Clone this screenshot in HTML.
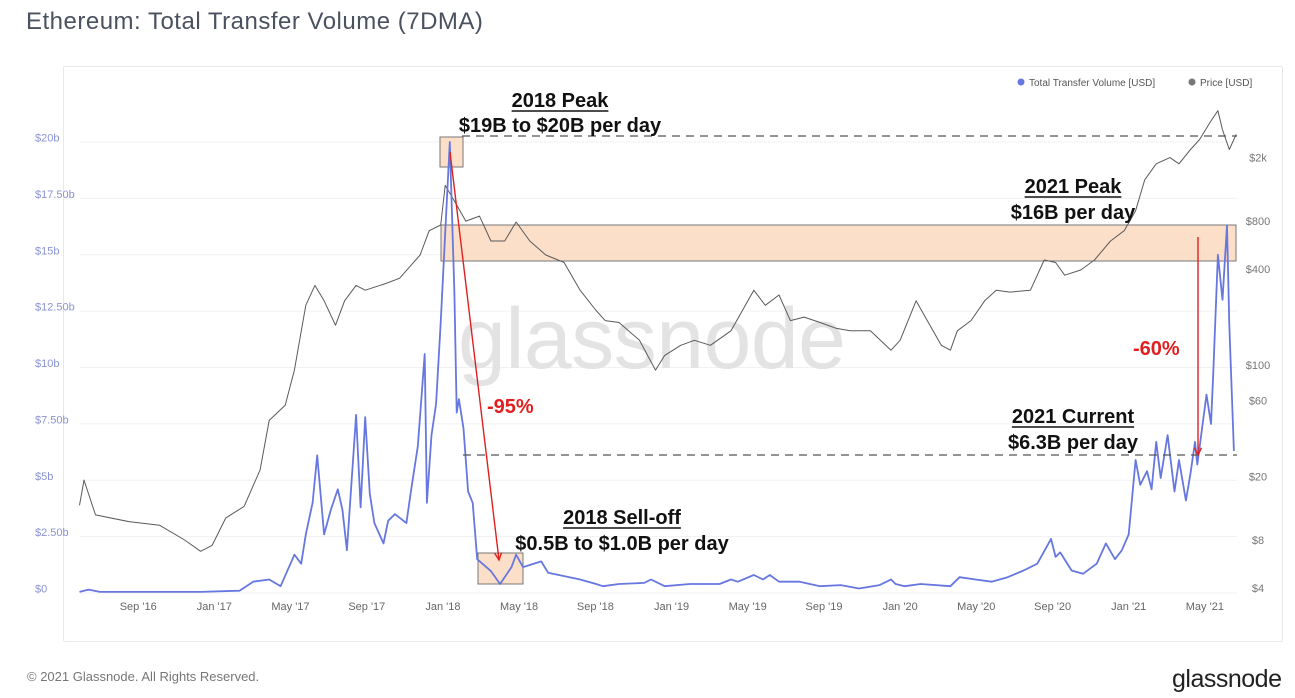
<!DOCTYPE html>
<html><head><meta charset="utf-8">
<style>
html,body{margin:0;padding:0;background:#fff;}
body{width:1295px;height:698px;position:relative;overflow:hidden;font-family:"Liberation Sans",sans-serif;}
#title{position:absolute;left:26px;top:8px;font-size:24px;color:#4a5260;letter-spacing:0.5px;}
#card{position:absolute;left:63px;top:66px;width:1218px;height:574px;border:1px solid #e8e8e8;border-radius:2px;}
#footer{position:absolute;left:27px;top:669px;font-size:13px;color:#777;}
#logo{position:absolute;left:1172px;top:665px;font-size:25px;color:#222;letter-spacing:-0.5px;}
svg{position:absolute;left:0;top:0;}
</style></head>
<body>
<div id="title">Ethereum: Total Transfer Volume (7DMA)</div>
<div id="card"></div>
<div id="footer">© 2021 Glassnode. All Rights Reserved.</div>
<div id="logo">glassnode</div>
<svg id="chart" width="1295" height="698" font-family="Liberation Sans, sans-serif"></svg>
<script>
// ---- data ----
const volTicks = [0,2.5,5,7.5,10,12.5,15,17.5,20];
const volTickLabels = ['$0','$2.50b','$5b','$7.50b','$10b','$12.50b','$15b','$17.50b','$20b'];
const priceTicks = [4,8,20,60,100,400,800,2000];
const priceTickLabels = ['$4','$8','$20','$60','$100','$400','$800','$2k'];
const xTickDates = [2016.667,2017.0,2017.333,2017.667,2018.0,2018.333,2018.667,2019.0,2019.333,2019.667,2020.0,2020.333,2020.667,2021.0,2021.333];
const xTickLabels = ["Sep '16","Jan '17","May '17","Sep '17","Jan '18","May '18","Sep '18","Jan '19","May '19","Sep '19","Jan '20","May '20","Sep '20","Jan '21","May '21"];

const volDates = [2016.41,2016.45,2016.50,2016.94,2017.11,2017.17,2017.24,2017.29,2017.35,2017.38,2017.40,2017.43,2017.45,2017.48,2017.51,2017.54,2017.56,2017.58,2017.62,2017.64,2017.66,2017.68,2017.70,2017.74,2017.76,2017.79,2017.84,2017.86,2017.89,2017.92,2017.93,2017.95,2017.97,2017.99,2018.03,2018.05,2018.06,2018.07,2018.09,2018.11,2018.13,2018.15,2018.21,2018.25,2018.30,2018.32,2018.35,2018.43,2018.46,2018.60,2018.67,2018.70,2018.77,2018.88,2018.91,2018.97,2019.08,2019.21,2019.26,2019.29,2019.36,2019.40,2019.43,2019.47,2019.56,2019.65,2019.74,2019.82,2019.91,2019.96,2019.98,2020.02,2020.09,2020.22,2020.26,2020.33,2020.40,2020.47,2020.54,2020.60,2020.66,2020.68,2020.70,2020.75,2020.80,2020.86,2020.90,2020.94,2020.97,2021.00,2021.03,2021.05,2021.08,2021.10,2021.12,2021.14,2021.17,2021.20,2021.22,2021.25,2021.27,2021.29,2021.30,2021.34,2021.36,2021.37,2021.39,2021.41,2021.43,2021.44,2021.46];
const volValues = [0.05,0.15,0.05,0.05,0.1,0.5,0.6,0.3,1.7,1.3,2.6,4.0,6.1,2.6,3.7,4.6,3.7,1.9,7.9,3.8,7.8,4.4,3.1,2.2,3.2,3.5,3.1,4.5,6.5,10.6,4.0,7.0,8.4,12,20,13.3,8,8.6,7.3,4.5,4.0,1.5,0.97,0.4,1.15,1.7,1.15,1.4,0.9,0.6,0.4,0.3,0.4,0.45,0.6,0.3,0.4,0.4,0.6,0.5,0.8,0.6,0.8,0.5,0.5,0.3,0.35,0.2,0.35,0.6,0.4,0.3,0.4,0.3,0.7,0.6,0.5,0.7,1.0,1.3,2.4,1.6,1.8,1.0,0.85,1.3,2.2,1.5,1.9,2.6,5.9,4.8,5.4,4.6,6.7,5.1,7.0,4.5,5.9,4.1,5.3,6.7,5.7,8.8,7.5,9.8,15.0,13.0,16.3,11.9,6.3];

const priceDates = [2016.41,2016.43,2016.48,2016.63,2016.76,2016.87,2016.94,2016.99,2017.05,2017.13,2017.20,2017.24,2017.31,2017.35,2017.40,2017.44,2017.48,2017.53,2017.57,2017.62,2017.66,2017.75,2017.81,2017.86,2017.90,2017.94,2017.99,2018.01,2018.05,2018.10,2018.16,2018.21,2018.27,2018.32,2018.38,2018.45,2018.53,2018.60,2018.67,2018.71,2018.77,2018.86,2018.93,2018.97,2019.04,2019.10,2019.17,2019.26,2019.36,2019.41,2019.47,2019.52,2019.58,2019.65,2019.72,2019.78,2019.87,2019.96,2020.00,2020.07,2020.11,2020.18,2020.22,2020.25,2020.31,2020.37,2020.42,2020.48,2020.57,2020.63,2020.68,2020.72,2020.79,2020.85,2020.92,2020.98,2021.03,2021.07,2021.12,2021.18,2021.22,2021.27,2021.31,2021.36,2021.39,2021.41,2021.44,2021.47];
const priceValues = [13.2,19,11.5,10.4,9.9,8,6.8,7.4,11,13,22,45,56,93,237,316,253,178,253,316,295,325,350,422,490,696,756,1340,1070,800,860,600,600,790,600,490,440,295,220,190,185,143,93,115,133,143,133,164,295,237,275,190,200,185,170,164,164,124,143,253,200,133,124,164,190,253,295,287,295,456,440,366,395,456,600,696,930,1450,1830,2000,1830,2250,2600,3400,3940,2990,2250,2800];

// ---- scales ----
const X0 = 80, X1 = 1237;
function xOf(d){ return 81 + (d - 2016.4167) * 228.6; }
function yVol(v){ return 593 - v * 22.55; }
function yPrice(p){ return 588 - 48 * Math.log2(p / 4); }

const NS = 'http://www.w3.org/2000/svg';
const svg = document.getElementById('chart');
function mk(tag, attrs, parent){
  const e = document.createElementNS(NS, tag);
  for (const k in attrs) e.setAttribute(k, attrs[k]);
  (parent || svg).appendChild(e);
  return e;
}

volTicks.forEach((t,i)=>{
  const g = mk('line',{x1:X0,x2:X1,y1:yVol(t),y2:yVol(t),stroke:'#f1f1f3','stroke-width':1});
  
  
  const tx = mk('text',{x:35,y:yVol(t)-0.5,'font-size':11,fill:'#8a92d4'});
  tx.textContent = volTickLabels[i];
  
  
});
priceTicks.forEach((t,i)=>{
  const tx = mk('text',{x:1258,y:yPrice(t)+4,'font-size':11,fill:'#777','text-anchor':'middle'});
  tx.textContent = priceTickLabels[i];
  
  
});
xTickDates.forEach((d,i)=>{
  const tx = mk('text',{x:xOf(d),y:610,'font-size':11,fill:'#666','text-anchor':'middle'});
  tx.textContent = xTickLabels[i];
  
  
});

const wm = mk('text',{x:458,y:368,'font-size':86,fill:'#e3e3e3','textLength':388});
wm.textContent = 'glassnode';



function box(x,y,w,h,name){
  const r = mk('rect',{x:x,y:y,width:w,height:h,fill:'#fcd9bf','fill-opacity':0.85,stroke:'#777','stroke-width':1});
  
  
}
box(441,225,795,36,'2021-peak-band');
box(440,137,23,30,'2018-peak-box');
box(478,553,45,31,'2018-selloff-box');

let dp = priceDates.map((d,i)=>(i?'L':'M')+xOf(d).toFixed(1)+','+yPrice(priceValues[i]).toFixed(1)).join(' ');
const pl = mk('path',{d:dp,fill:'none',stroke:'#5a5a5a','stroke-width':1,'stroke-linejoin':'round'});



let dv = volDates.map((d,i)=>(i?'L':'M')+xOf(d).toFixed(1)+','+yVol(volValues[i]).toFixed(1)).join(' ');
const vl = mk('path',{d:dv,fill:'none',stroke:'#6677e0','stroke-width':1.8,'stroke-linejoin':'round'});



const d1 = mk('line',{x1:462,x2:1237,y1:136,y2:136,stroke:'#555','stroke-width':1.3,'stroke-dasharray':'8,6'});


const d2 = mk('line',{x1:463,x2:1237,y1:455,y2:455,stroke:'#555','stroke-width':1.3,'stroke-dasharray':'8,6'});



function arrow(x1,y1,x2,y2,name){
  const g = mk('g',{});
  
  
  mk('line',{x1:x1,y1:y1,x2:x2,y2:y2,stroke:'#e02020','stroke-width':1.4},g);
  const a = Math.atan2(y2-y1,x2-x1), L=8;
  const p1=[x2-L*Math.cos(a-0.45),y2-L*Math.sin(a-0.45)], p2=[x2-L*Math.cos(a+0.45),y2-L*Math.sin(a+0.45)];
  mk('polyline',{points:`${p1} ${x2},${y2} ${p2}`,fill:'none',stroke:'#e02020','stroke-width':1.4},g);
}
arrow(450,152,499,560,'drop-95-arrow');
arrow(1198,237,1198,455,'drop-60-arrow');

function label(cx,y,t,underline,name){
  const tx = mk('text',{x:cx,y:y,'font-size':20,'font-weight':'bold',fill:'#111','text-anchor':'middle'});
  tx.textContent = t;
  
  
  if(underline){
    const w = tx.getComputedTextLength();
    mk('line',{x1:cx-w/2,x2:cx+w/2,y1:y+4,y2:y+4,stroke:'#111','stroke-width':1.5});
  }
}
label(560,107,'2018 Peak',true,'2018-peak-title');
label(560,132,'$19B to $20B per day',false,'2018-peak-value');
label(1073,193,'2021 Peak',true,'2021-peak-title');
label(1073,219,'$16B per day',false,'2021-peak-value');
label(1073,423,'2021 Current',true,'2021-current-title');
label(1073,449,'$6.3B per day',false,'2021-current-value');
label(622,524,'2018 Sell-off',true,'2018-selloff-title');
label(622,550,'$0.5B to $1.0B per day',false,'2018-selloff-value');
function red(x,y,t,name){
  const tx = mk('text',{x:x,y:y,'font-size':20,'font-weight':'bold',fill:'#e02020'});
  tx.textContent = t;
  
  
}
red(487,413,'-95%','drop-95-label');
red(1133,355,'-60%','drop-60-label');

const lg = mk('g',{});


mk('circle',{cx:1021,cy:82,r:3.5,fill:'#6677e0'},lg);
const l1 = mk('text',{x:1029,y:86,'font-size':10,fill:'#555'},lg);
l1.textContent='Total Transfer Volume [USD]';


mk('circle',{cx:1192,cy:82,r:3.5,fill:'#777'},lg);
const l2 = mk('text',{x:1200,y:86,'font-size':10,fill:'#555'},lg);
l2.textContent='Price [USD]';


</script>
</body></html>
